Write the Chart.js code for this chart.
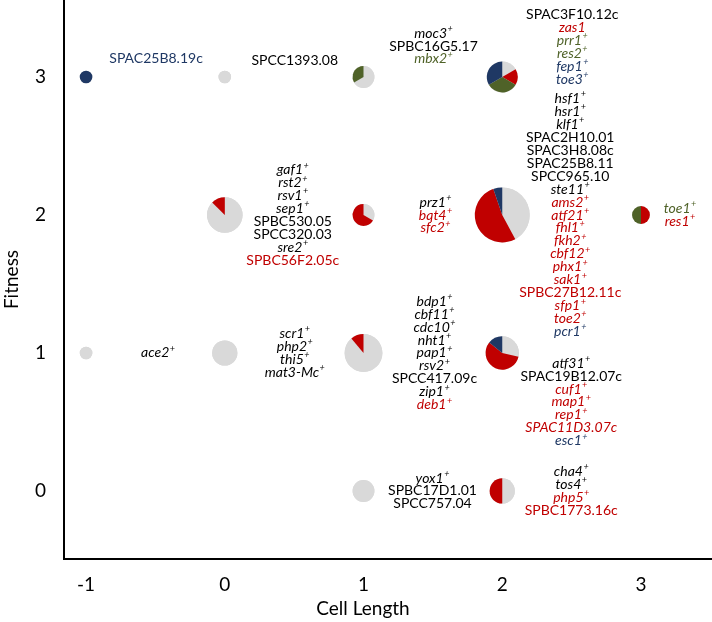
<!DOCTYPE html>
<html>
<head>
<meta charset="utf-8">
<script src="https://cdn.jsdelivr.net/npm/chart.js@4.4.1/dist/chart.umd.min.js"></script>
<style>
  html, body { margin: 0; padding: 0; background: #fff; }
  #wrap { width: 712px; height: 622px; }
</style>
</head>
<body>
<div id="wrap"><canvas id="fitness-chart" width="712" height="622"></canvas></div>
<script>
// DATA
const cellLength = [-1, 0, 1, 2, 0, 1, 2, 3, -1, 0, 1, 2, 1, 2];
const fitness    = [ 3, 3, 3, 3, 2, 2, 2, 2,  1, 1, 1, 1, 0, 0];

// k = no change (grey), r = red, g = green, n = navy
const geneLists = [
  ['n:SPAC25B8.19c'],
  ['k:SPCC1393.08'],
  ['k:moc3+', 'k:SPBC16G5.17', 'g:mbx2+'],
  ['k:SPAC3F10.12c', 'r:zas1', 'g:prr1+', 'g:res2+', 'n:fep1+', 'n:toe3+'],
  ['k:gaf1+', 'k:rst2+', 'k:rsv1+', 'k:sep1+', 'k:SPBC530.05', 'k:SPCC320.03', 'k:sre2+', 'r:SPBC56F2.05c'],
  ['k:prz1+', 'r:bqt4+', 'r:sfc2+'],
  ['k:hsf1+', 'k:hsr1+', 'k:klf1+', 'k:SPAC2H10.01', 'k:SPAC3H8.08c', 'k:SPAC25B8.11', 'k:SPCC965.10', 'k:ste11+',
   'r:ams2+', 'r:atf21+', 'r:fhl1+', 'r:fkh2+', 'r:cbf12+', 'r:phx1+', 'r:sak1+', 'r:SPBC27B12.11c', 'r:sfp1+', 'r:toe2+',
   'n:pcr1+'],
  ['g:toe1+', 'r:res1+'],
  ['k:ace2+'],
  ['k:scr1+', 'k:php2+', 'k:thi5+', 'k:mat3-Mc+'],
  ['k:bdp1+', 'k:cbf11+', 'k:cdc10+', 'k:nht1+', 'k:pap1+', 'k:rsv2+', 'k:SPCC417.09c', 'k:zip1+', 'r:deb1+'],
  ['k:atf31+', 'k:SPAC19B12.07c', 'r:cuf1+', 'r:map1+', 'r:rep1+', 'r:SPAC11D3.07c', 'n:esc1+'],
  ['k:yox1+', 'k:SPBC17D1.01', 'k:SPCC757.04'],
  ['k:cha4+', 'k:tos4+', 'r:php5+', 'r:SPBC1773.16c']
];
const italicNames = ['zas1', 'SPAC11D3.07c'];
const xTicks = [-1, 0, 1, 2, 3];
const yTicks = [0, 1, 2, 3];

// STYLE / LAYOUT
const sliceOrder = ['k', 'r', 'g', 'n'];
const sliceColors = { k: '#d9d9d9', r: '#c00000', g: '#4f6228', n: '#1f3864' };
const textColors  = { k: '#000000', r: '#c00000', g: '#4f6228', n: '#1f3864' };
const labelDx = [70, 70, 70, 70, 68, 72, 68, 39, 72, 70, 71, 69, 69, 69];
const labelDy = [-19, -17, -31, -30, 0, 0, 0, 0, 0, 0, 0, 49, 0, 0];
const lineH = 12.95;
const fontFamily = 'Lato, "Open Sans", sans-serif';

function countOf(list, key) {
  return list.filter(function (g) { return g.charAt(0) === key; }).length;
}

function noPadding(s) {
  s.paddingTop = 0; s.paddingBottom = 0; s.paddingLeft = 0; s.paddingRight = 0;
}

var points = cellLength.map(function (x, i) {
  return { x: x, y: fitness[i], r: 6.3 * Math.sqrt(geneLists[i].length) };
});

// pie slices on top of each bubble
var pieSlices = {
  id: 'pieSlices',
  afterDatasetsDraw: function (chart) {
    var ctx = chart.ctx;
    var meta = chart.getDatasetMeta(0);
    meta.data.forEach(function (el, i) {
      var list = geneLists[i];
      var total = list.length;
      var r = el.options.radius;
      var start = -Math.PI / 2;
      sliceOrder.forEach(function (key) {
        var n = countOf(list, key);
        if (!n) return;
        var end = start + 2 * Math.PI * n / total;
        ctx.save();
        ctx.beginPath();
        ctx.moveTo(el.x, el.y);
        ctx.arc(el.x, el.y, r, start, end);
        ctx.closePath();
        ctx.fillStyle = sliceColors[key];
        ctx.fill();
        ctx.restore();
        start = end;
      });
    });
  }
};

// gene name blocks next to each pie
var geneLabels = {
  id: 'geneLabels',
  afterDraw: function (chart) {
    var ctx = chart.ctx;
    var meta = chart.getDatasetMeta(0);
    meta.data.forEach(function (el, i) {
      var list = geneLists[i];
      var cx = el.x + labelDx[i];
      var y0 = el.y + labelDy[i] - (list.length - 1) / 2 * lineH;
      list.forEach(function (entry, j) {
        var key = entry.charAt(0);
        var name = entry.slice(2);
        var plus = name.slice(-1) === '+';
        if (plus) name = name.slice(0, -1);
        var italic = plus || italicNames.indexOf(name) >= 0;
        var style = italic ? 'italic ' : '';
        var y = y0 + j * lineH;
        ctx.save();
        ctx.fillStyle = textColors[key];
        ctx.textBaseline = 'middle';
        ctx.textAlign = 'left';
        ctx.font = style + '14px ' + fontFamily;
        var w = ctx.measureText(name).width;
        ctx.font = style + '9px ' + fontFamily;
        var pw = plus ? ctx.measureText('+').width + 0.5 : 0;
        var left = cx - (w + pw) / 2;
        ctx.font = style + '14px ' + fontFamily;
        ctx.fillText(name, left, y);
        if (plus) {
          ctx.font = style + '9px ' + fontFamily;
          ctx.fillText('+', left + w + 0.5, y - 4);
        }
        ctx.restore();
      });
    });
    // x axis title
    ctx.save();
    ctx.fillStyle = '#000';
    ctx.font = '19px ' + fontFamily;
    ctx.textAlign = 'center';
    ctx.textBaseline = 'middle';
    ctx.fillText('Cell Length', 363, 609);
    ctx.restore();
  }
};

var ctx = document.getElementById('fitness-chart').getContext('2d');
var chart = new Chart(ctx, {
  type: 'bubble',
  data: {
    datasets: [{
      data: points,
      backgroundColor: sliceColors.k,
      borderWidth: 0,
      hoverBorderWidth: 0,
      clip: false
    }]
  },
  options: {
    responsive: false,
    animation: false,
    devicePixelRatio: 1,
    layout: { padding: 0, autoPadding: false },
    plugins: {
      legend: { display: false },
      tooltip: { enabled: false }
    },
    scales: {
      x: {
        type: 'linear',
        min: -1.159,
        max: 3.512,
        afterFit: function (s) { s.height = 63; noPadding(s); },
        afterBuildTicks: function (s) { s.ticks = xTicks.map(function (v) { return { value: v }; }); },
        grid: { display: false, drawTicks: false },
        border: { display: true, color: '#000', width: 2 },
        ticks: { padding: 14, color: '#000', font: { family: fontFamily, size: 19 } }
      },
      y: {
        type: 'linear',
        min: -0.493,
        max: 3.558,
        afterFit: function (s) { s.width = 64; noPadding(s); },
        afterBuildTicks: function (s) { s.ticks = yTicks.map(function (v) { return { value: v }; }); },
        grid: { display: false, drawTicks: false },
        border: { display: true, color: '#000', width: 2 },
        ticks: { padding: 18, color: '#000', font: { family: fontFamily, size: 19 } },
        title: { display: true, text: 'Fitness', color: '#000', padding: 0, font: { family: fontFamily, size: 19 } }
      }
    }
  },
  plugins: [pieSlices, geneLabels]
});
</script>
</body>
</html>
